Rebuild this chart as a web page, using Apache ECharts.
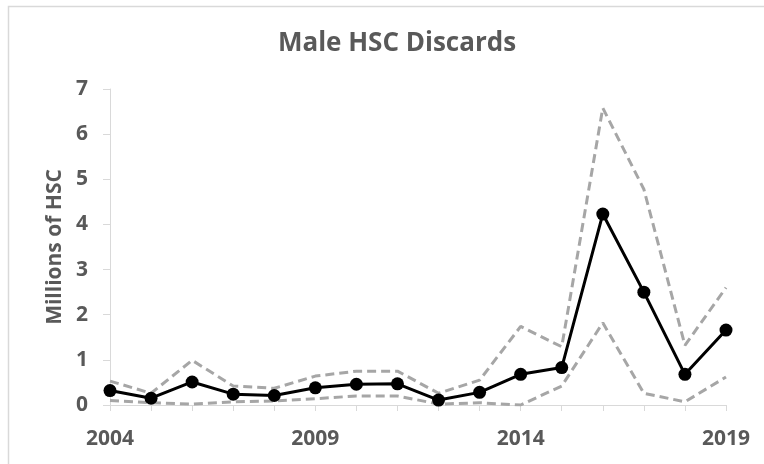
<!DOCTYPE html>
<html>
<head>
<meta charset="utf-8">
<script src="https://cdn.jsdelivr.net/npm/echarts@6/dist/echarts.min.js"></script>
<style>
html,body{margin:0;padding:0;background:#fff;}
#c{width:764px;height:464px;}
</style>
</head>
<body>
<div id="c"></div>
<script>
const years = ['2004','2005','2006','2007','2008','2009','2010','2011','2012','2013','2014','2015','2016','2017','2018','2019'];
const estimate = [0.32,0.15,0.51,0.24,0.21,0.38,0.46,0.47,0.11,0.28,0.68,0.83,4.23,2.50,0.68,1.66];
const upper = [0.53,0.26,0.99,0.42,0.37,0.64,0.75,0.75,0.26,0.55,1.74,1.29,6.58,4.78,1.32,2.60];
const lower = [0.10,0.05,0.02,0.07,0.09,0.14,0.20,0.20,0.02,0.05,0.00,0.42,1.82,0.26,0.07,0.62];
const yTicks = [0,1,2,3,4,5,6,7];

const chart = echarts.init(document.getElementById('c'));
const font = '"Open Sans", sans-serif';
const grey = '#595959';
chart.setOption({
  animation: false,
  graphic: [{
    type: 'rect', silent: true,
    shape: {x: 8.5, y: 6.5, width: 800, height: 500},
    style: {fill: 'none', stroke: '#d9d9d9', lineWidth: 1.5}
  }],
  title: {
    text: 'Male HSC Discards',
    left: 392, top: 26, textAlign: 'center',
    textStyle: {fontFamily: font, fontWeight: 'bold', fontSize: 26, color: grey}
  },
  grid: {left: 110, right: 38, top: 89, bottom: 59},
  xAxis: {
    type: 'category', data: years, boundaryGap: false,
    axisLine: {lineStyle: {color: '#d9d9d9', width: 1}},
    axisTick: {show: true, interval: 0, length: 6, lineStyle: {color: '#d9d9d9'}},
    axisLabel: {interval: 4, margin: 24, fontFamily: font, fontWeight: 'bold', fontSize: 21, color: grey},
    splitLine: {show: false}
  },
  yAxis: {
    type: 'value', min: yTicks[0], max: yTicks[yTicks.length-1], interval: 1,
    name: 'Millions of HSC', nameLocation: 'middle', nameRotate: 90, nameGap: 44,
    nameTextStyle: {fontFamily: font, fontWeight: 'bold', fontSize: 21, color: grey},
    axisLine: {show: true, lineStyle: {color: '#d9d9d9', width: 1}},
    axisTick: {show: true, length: 7, lineStyle: {color: '#d9d9d9'}},
    axisLabel: {margin: 22, fontFamily: font, fontWeight: 'bold', fontSize: 21, color: grey},
    splitLine: {show: false}
  },
  series: [
    {type: 'line', name: 'Upper', data: upper, symbol: 'none',
     lineStyle: {color: '#a6a6a6', width: 3, type: [9, 5]}},
    {type: 'line', name: 'Lower', data: lower, symbol: 'none',
     lineStyle: {color: '#a6a6a6', width: 3, type: [9, 5]}},
    {type: 'line', name: 'Estimate', data: estimate, symbol: 'circle', symbolSize: 13,
     itemStyle: {color: '#000'}, lineStyle: {color: '#000', width: 3}}
  ]
});
</script>
</body>
</html>
